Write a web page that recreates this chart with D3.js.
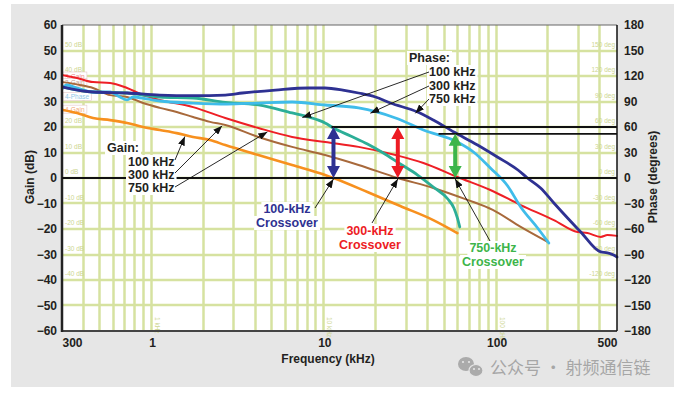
<!DOCTYPE html>
<html>
<head>
<meta charset="utf-8">
<script src="https://cdn.jsdelivr.net/npm/d3@7"></script>
<style>
  body { margin: 0; background: #fff; }
  svg { display: block; font-family: "Liberation Sans", Arial, sans-serif; }
</style>
</head>
<body>
<div id="chart"></div>
<script>
// measured curves, [frequency kHz, value]
const gain100 = [[0.304,26.7],[0.367,25.5],[0.454,23.5],[0.571,22.7],[0.716,21.6],[0.887,20],[1.11,18.8],[1.39,17.6],
  [1.73,16.1],[2.17,14.9],[2.66,12.9],[4.14,9],[6.5,5.1],[10.1,1.2],[11.3,0],[17.8,-5.5],[27.6,-11],[42.9,-16.5],[59.2,-21.6]];
const gain300 = [[0.304,37.6],[0.381,36.5],[0.454,35.3],[0.571,32.5],[0.716,31.8],[0.887,29.4],[1.11,27.5],[1.39,25.9],
  [1.73,23.9],[2.17,22],[2.66,20.8],[4.14,16.1],[6.5,12.2],[10.1,9],[15.8,5.1],[26.7,0],[42.9,-3.9],[67.8,-8.6],
  [95,-12.5],[138,-19.2],[198,-25.1]];
const gain750 = [[0.3,40.4],[0.367,39.2],[0.454,37.6],[0.571,37.3],[0.716,35.3],[0.887,32.5],[1.11,30.6],[1.73,27.8],
  [2.66,23.5],[4.14,19.6],[6.5,16.1],[10.1,14.1],[15.8,12.2],[25.9,9],[37.6,5.9],[59.2,0.4],[92,-4.7],[138,-10.6],
  [215,-16.5],[295,-21.2],[337,-21.6],[402,-23.1],[440,-22.4],[500,-22.7]];
const phase100 = [[0.304,107],[0.454,101.2],[0.716,100],[1.11,95.3],[1.73,94.1],[2.66,89],[4.14,85.9],[6.5,76.5],
  [8.07,71.8],[10.1,64.7],[11.3,58.8],[14.2,49.4],[17.8,40],[22,29.4],[27.6,16.5],[34.8,3.5],[42.9,-10.6],
  [52.1,-24.7],[56.5,-35.3],[59.2,-47],[61.1,-57.6]];
const phase300 = [[0.304,105.9],[0.32,109.4],[0.367,105.9],[0.454,101.2],[0.571,101.2],[0.651,95.3],[0.716,91.8],
  [0.776,95.3],[0.934,93],[1.11,90.6],[1.73,88.2],[2.73,87],[4.14,88.2],[6.5,89.4],[10.1,85.9],[15.8,82.4],[25.9,70.6],
  [37.6,56.5],[59.2,42.4],[73.4,30.6],[92,11.8],[116,-9.4],[138,-34.1],[173,-58.8],[201,-76.5]];
const phase750 = [[0.304,107],[0.454,101.2],[0.716,100],[1.11,97.6],[1.73,97],[2.66,97.6],[3.34,100],[5.2,103.5],
  [8.07,105.9],[10.1,105.9],[12.8,103.5],[15.8,100],[19.8,95.3],[24.2,88.2],[34.8,77.6],[42.9,68.2],[56.5,54.1],
  [77.5,38.8],[101,24.7],[133,9.4],[151,0],[180,-11.8],[215,-29.4],[308,-63.5],[402,-87],[440,-88],[478,-90.6],[500,-93]];

const gainTicks = [60,50,40,30,20,10,0,-10,-20,-30,-40,-50,-60];
const phaseTicks = [180,150,120,90,60,30,0,-30,-60,-90,-120,-150,-180];
const freqTicks = [0.3,1,10,100,500];
const freqTickLabels = ['300','1','10','100','500'];
const innerGainLabels = [50,40,20,10,0,-10,-20,-30,-40];
const innerPhaseLabels = [150,120,90,60,30,0,-30,-60,-90,-120];
const innerFreqLabels = [[1,'1 kHz'],[10,'10 kHz'],[100,'100 kHz']];

const crossFreq = [11.3, 26.7, 57.5];     // 0 dB crossings
const marginDeg = [60, 60, 52];           // phase at crossover
const crossNames = ['100-kHz','300-kHz','750-kHz'];
const crossColors = ['#2e3192','#ed1c24','#3db54a'];

const W = 680, H = 394;
const L = 62, R = 617, T = 25, B = 331;

const x = d3.scaleLog().domain([0.3, 500]).range([L, R]);
const yG = d3.scaleLinear().domain([-60, 60]).range([B, T]);
const yP = d3.scaleLinear().domain([-180, 180]).range([B, T]);
const minus = d => d < 0 ? '\u2212' + (-d) : String(d);

const svg = d3.select('#chart').append('svg')
  .attr('width', W).attr('height', H);

svg.append('defs').append('marker')
  .attr('id', 'tip').attr('markerUnits', 'userSpaceOnUse')
  .attr('markerWidth', 9).attr('markerHeight', 7)
  .attr('refX', 9).attr('refY', 3.5).attr('orient', 'auto')
  .append('path').attr('d', 'M0,0L9,3.5L0,7Z').attr('fill', '#111');

svg.append('rect').attr('x', 11).attr('y', 4).attr('width', 663).attr('height', 383).attr('fill', '#e6e6e6');
svg.append('rect').attr('x', L).attr('y', T).attr('width', R - L).attr('height', B - T).attr('fill', '#fff');

// grid
const grid = svg.append('g').attr('stroke', '#d6e2a0').attr('stroke-width', 2.5);
const freqGrid = [];
[0.1, 1, 10, 100].forEach(dec => d3.range(1, 10).forEach(k => {
  const f = +(k * dec).toPrecision(3);
  if (f > 0.3 && f < 500) freqGrid.push(f);
}));
grid.selectAll('line.v').data(freqGrid).join('line')
  .attr('x1', d => Math.round(x(d)) - 0.5).attr('x2', d => Math.round(x(d)) - 0.5).attr('y1', T).attr('y2', B);
grid.selectAll('line.h').data(gainTicks.filter(d => d > -60 && d < 60)).join('line')
  .attr('x1', L).attr('x2', R).attr('y1', d => Math.round(yG(d))).attr('y2', d => Math.round(yG(d)));

// faint instrument labels
const faint = svg.append('g').attr('fill', '#cdd690').attr('font-size', 6.5);
faint.selectAll('text.g').data(innerGainLabels).join('text')
  .attr('x', L + 3).attr('y', d => yG(d) - 4).text(d => d + ' dB');
faint.selectAll('text.p').data(innerPhaseLabels).join('text')
  .attr('x', R - 2).attr('y', d => yP(d) - 4).attr('text-anchor', 'end').text(d => d + ' deg');
faint.selectAll('text.f').data(innerFreqLabels).join('text')
  .attr('transform', d => `translate(${x(d[0]) + 3},${B - 14}) rotate(90)`).text(d => d[1]);

const tags = [['3-Gain', 40, '#e8888a'], ['2-Gain', 37.5, '#c8a090'], ['4-Phase', 32, '#8fc8e8'], ['4-Gain', 27, '#f2a878']];
tags.forEach(([t, v, c]) => {
  const g = svg.append('g');
  const tx = g.append('text').attr('x', L + 3).attr('y', yG(v) + 2.5).attr('font-size', 6.5).attr('fill', c).text(t);
  const bb = tx.node().getBBox();
  g.insert('rect', 'text').attr('x', L + 1).attr('y', bb.y - 0.5).attr('width', bb.width + 4).attr('height', bb.height + 1)
    .attr('fill', '#fff').attr('stroke', '#e4c8c8').attr('stroke-width', 0.6);
});

// curves
const lineG = d3.line().x(d => x(d[0])).y(d => yG(d[1])).curve(d3.curveMonotoneX);
const lineP = d3.line().x(d => x(d[0])).y(d => yP(d[1])).curve(d3.curveMonotoneX);
const curves = [
  [gain100, lineG, '#f7901e', 2.6],
  [gain300, lineG, '#a8693b', 2],
  [gain750, lineG, '#ee1f25', 2],
  [phase100, lineP, '#2cae97', 2.8],
  [phase300, lineP, '#3fbcea', 2.8],
  [phase750, lineP, '#2e3192', 2.8]
];
svg.append('g').selectAll('path').data(curves).join('path')
  .attr('d', d => d[1](d[0])).attr('fill', 'none')
  .attr('stroke', d => d[2]).attr('stroke-width', d => d[3])
  .attr('stroke-linejoin', 'round').attr('stroke-linecap', 'round');

// frame
svg.append('line').attr('x1', L).attr('x2', R).attr('y1', T).attr('y2', T).attr('stroke', '#666').attr('stroke-width', 1);
svg.append('line').attr('x1', L).attr('x2', R).attr('y1', B).attr('y2', B).attr('stroke', '#444').attr('stroke-width', 2);
svg.append('line').attr('x1', R).attr('x2', R).attr('y1', T).attr('y2', B).attr('stroke', '#111').attr('stroke-width', 1.5);
svg.append('line').attr('x1', L).attr('x2', L).attr('y1', T).attr('y2', B + 1).attr('stroke', '#222').attr('stroke-width', 2.5);

// reference lines
const ref = svg.append('g').attr('stroke', '#111').attr('stroke-width', 1.8);
ref.append('line').attr('x1', L).attr('x2', R).attr('y1', yG(0)).attr('y2', yG(0));
ref.append('line').attr('x1', x(crossFreq[0]) - 2).attr('x2', R).attr('y1', yP(60)).attr('y2', yP(60));
ref.append('line').attr('x1', x(46)).attr('x2', R).attr('y1', yP(52)).attr('y2', yP(52));

// phase-margin double arrows
const arrows = svg.append('g');
crossFreq.forEach((f, i) => {
  const cx = x(f), y1 = yP(marginDeg[i]), y2 = yP(0), c = crossColors[i];
  const hw = 6.5, hh = 12;
  arrows.append('line').attr('x1', cx).attr('x2', cx).attr('y1', y1 + hh - 1).attr('y2', y2 - hh + 1)
    .attr('stroke', c).attr('stroke-width', 4);
  arrows.append('path').attr('fill', c)
    .attr('d', `M${cx},${y1}L${cx + hw},${y1 + hh}L${cx - hw},${y1 + hh}Z M${cx},${y2}L${cx + hw},${y2 - hh}L${cx - hw},${y2 - hh}Z`);
});

// labels with white backing
function label(g, str, tx, ty, opts) {
  const t = g.append('text').attr('x', tx).attr('y', ty)
    .attr('font-size', opts.size || 12.5).attr('font-weight', 'bold')
    .attr('fill', opts.color || '#231f20').attr('text-anchor', opts.anchor || 'start').text(str);
  const bb = t.node().getBBox();
  g.insert('rect', 'text').attr('x', bb.x - 2).attr('y', bb.y).attr('width', bb.width + 4).attr('height', bb.height)
    .attr('fill', '#fff');
}

function valueAt(series, f) {
  for (let i = 1; i < series.length; i++) {
    const a = series[i - 1], b = series[i];
    if (f <= b[0]) {
      const t = (Math.log(f) - Math.log(a[0])) / (Math.log(b[0]) - Math.log(a[0]));
      return a[1] + t * (b[1] - a[1]);
    }
  }
  return series[series.length - 1][1];
}

const ann = svg.append('g');
const leader = svg.append('g').attr('stroke', '#111').attr('stroke-width', 0.9).attr('fill', 'none');

// gain callout
label(ann, 'Gain:', 107, 152, {});
label(ann, '100 kHz', 128, 166, {});
label(ann, '300 kHz', 128, 179, {});
label(ann, '750 kHz', 128, 192, {});
[[gain100, 1.55, 160], [gain300, 2.55, 173], [gain750, 4.67, 187]].forEach(([s, f, sy]) => {
  leader.append('line').attr('x1', 175).attr('y1', sy).attr('x2', x(f)).attr('y2', yG(valueAt(s, f)) + 1.5)
    .attr('marker-end', 'url(#tip)');
});

// phase callout
label(ann, 'Phase:', 409, 62, {});
label(ann, '100 kHz', 429, 76, {});
label(ann, '300 kHz', 429, 90, {});
label(ann, '750 kHz', 429, 103, {});
[[phase100, 7.45, 72], [phase300, 18.5, 86], [phase750, 33.8, 99]].forEach(([s, f, sy]) => {
  leader.append('line').attr('x1', 429).attr('y1', sy).attr('x2', x(f)).attr('y2', yP(valueAt(s, f)) + 2)
    .attr('marker-end', 'url(#tip)');
});

// crossover callouts
const crossText = [[287, 213], [370, 235], [493, 252]];
const crossFrom = [[315, 208], [372, 223], [490, 241]];
crossFreq.forEach((f, i) => {
  label(ann, crossNames[i], crossText[i][0], crossText[i][1], {anchor: 'middle', color: crossColors[i]});
  label(ann, 'Crossover', crossText[i][0], crossText[i][1] + 14, {anchor: 'middle', color: crossColors[i]});
  leader.append('line').attr('x1', crossFrom[i][0]).attr('y1', crossFrom[i][1])
    .attr('x2', x(f)).attr('y2', yG(0) + 1).attr('marker-end', 'url(#tip)');
});

// axes
const axisStyle = g => {
  g.select('.domain').remove();
  g.selectAll('text').attr('font-size', 12).attr('font-weight', 'bold').attr('fill', '#231f20')
    .attr('font-family', '"Liberation Sans", Arial, sans-serif');
};
svg.append('g').attr('transform', `translate(${L},0)`)
  .call(d3.axisLeft(yG).tickValues(gainTicks).tickSize(0).tickPadding(5).tickFormat(minus)).call(axisStyle);
svg.append('g').attr('transform', `translate(${R},0)`)
  .call(d3.axisRight(yP).tickValues(phaseTicks).tickSize(0).tickPadding(7).tickFormat(minus)).call(axisStyle);
svg.append('g').attr('transform', `translate(0,${B})`)
  .call(d3.axisBottom(x).tickValues(freqTicks).tickSize(0).tickPadding(7.5).tickFormat((d, i) => freqTickLabels[i]))
  .call(axisStyle)
  .selectAll('text').attr('text-anchor', (d, i) => i === 0 ? 'start' : i === freqTicks.length - 1 ? 'end' : 'middle');

const titles = svg.append('g').attr('font-size', 12).attr('font-weight', 'bold').attr('fill', '#231f20').attr('text-anchor', 'middle');
titles.append('text').attr('transform', 'translate(34,177) rotate(-90)').text('Gain (dB)');
titles.append('text').attr('transform', 'translate(657,177) rotate(-90)').text('Phase (degrees)');
titles.append('text').attr('x', 328).attr('y', 363).text('Frequency (kHz)');

// watermark
const wm = svg.append('g');
wm.append('ellipse').attr('cx', 466).attr('cy', 364).attr('rx', 8).attr('ry', 7).attr('fill', '#ababab');
wm.append('ellipse').attr('cx', 476).attr('cy', 370.5).attr('rx', 7).attr('ry', 6).attr('fill', '#ababab')
  .attr('stroke', '#e6e6e6').attr('stroke-width', 1.2);
[[463, 362], [469, 362], [474, 369], [479, 369]].forEach(([ex, ey]) =>
  wm.append('circle').attr('cx', ex).attr('cy', ey).attr('r', 1.1).attr('fill', '#e6e6e6'));
wm.append('text').attr('x', 490).attr('y', 374).attr('font-size', 17).attr('fill', '#a6a6a6')
  .attr('font-family', '"Noto Sans CJK SC", sans-serif').text('公众号 · 射频通信链');
</script>
</body>
</html>
